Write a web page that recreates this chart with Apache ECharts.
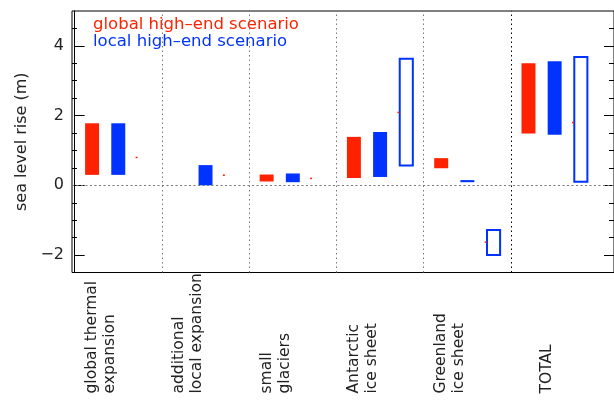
<!DOCTYPE html>
<html><head><meta charset="utf-8">
<script src="https://cdn.jsdelivr.net/npm/echarts@6/dist/echarts.min.js"></script>
<style>html,body{margin:0;padding:0;background:#fff}#c{width:614px;height:402px}</style>
</head><body><div id="c"></div>
<script>
// ---- data ----
const categories = ['global thermal\nexpansion', 'additional\nlocal expansion', 'small\nglaciers', 'Antarctic\nice sheet', 'Greenland\nice sheet', 'TOTAL'];
const globalLow  = [0.30, null, 0.11, 0.21, 0.49, 1.49];
const globalHigh = [1.78, null, 0.31, 1.39, 0.78, 3.50];
const localLow   = [0.30, 0.00, 0.09, 0.24, 0.09, 1.45];
const localHigh  = [1.78, 0.58, 0.34, 1.53, 0.15, 3.56];
const rangeLow   = [null, null, null, 0.57, -2.00, 0.10];
const rangeHigh  = [null, null, null, 3.63, -1.28, 3.68];
const centralValue = [0.80, 0.29, 0.20, 2.09, -1.63, 1.80];
const yMajorTicks = [-2, 0, 2, 4];
const yMinorTicks = [-2.5, -1.5, -1, -0.5, 0.5, 1, 1.5, 2.5, 3, 3.5, 4.5];
const legendLabels = ['global high\u2013end scenario', 'local high\u2013end scenario'];

const RED = '#ff2200', BLUE = '#0033ff';
const FONT = 'DejaVu Sans';
const chart = echarts.init(document.getElementById('c'));

function boxSeries(low, high, offset, halfW, color, hollow) {
  const data = [];
  low.forEach((l, i) => { if (l != null) data.push([i + offset, l, high[i]]); });
  return {
    type: 'custom', silent: true, data,
    encode: { x: 0, y: [1, 2] },
    renderItem(params, api) {
      const x = api.value(0), lo = api.value(1), hi = api.value(2);
      const a = api.coord([x - halfW, hi]), b = api.coord([x + halfW, lo]);
      let h = b[1] - a[1]; let y = a[1];
      if (h < 2) { y -= (2 - h) / 2; h = 2; }
      return {
        type: 'rect',
        shape: { x: a[0], y: y, width: b[0] - a[0], height: h },
        style: hollow ? { fill: 'none', stroke: color, lineWidth: 2 } : { fill: color }
      };
    }
  };
}

const yBase = { type: 'value', min: -2.5, max: 5, splitLine: { show: false } };

const option = {
  animation: false,
  grid: { left: 72, right: -1, top: 11, bottom: 129.5, show: true, borderColor: '#000', borderWidth: 1 },
  xAxis: { type: 'value', min: -0.03, max: 6.18, axisLine: { show: false }, axisTick: { show: false }, axisLabel: { show: false }, splitLine: { show: false } },
  yAxis: [
    Object.assign({}, yBase, {
      position: 'left',
      axisLine: { show: true, lineStyle: { color: '#000' } },
      axisTick: { show: true, inside: true, length: 10, customValues: yMajorTicks, lineStyle: { color: '#000' } },
      axisLabel: { show: true, customValues: yMajorTicks, margin: 8, fontFamily: FONT, fontSize: 16, color: '#222',
        formatter: v => v < 0 ? '\u2212' + Math.abs(v) : String(v) },
      name: 'sea level rise (m)', nameLocation: 'middle', nameGap: 41,
      nameTextStyle: { fontFamily: FONT, fontSize: 16, color: '#222' }
    }),
    Object.assign({}, yBase, {
      position: 'left', axisLine: { show: false },
      axisTick: { show: true, inside: true, length: 5, customValues: yMinorTicks, lineStyle: { color: '#000' } },
      axisLabel: { show: false }
    }),
    Object.assign({}, yBase, {
      position: 'right', axisLine: { show: false },
      axisTick: { show: true, inside: true, length: 10, customValues: yMajorTicks, lineStyle: { color: '#000' } },
      axisLabel: { show: false }
    }),
    Object.assign({}, yBase, {
      position: 'right', axisLine: { show: false },
      axisTick: { show: true, inside: true, length: 5, customValues: yMinorTicks, lineStyle: { color: '#000' } },
      axisLabel: { show: false }
    })
  ],
  graphic: legendLabels.map((t, i) => ({
    type: 'text', left: 93, top: 16 + i * 17,
    style: { text: t, fill: i === 0 ? RED : BLUE, font: '16.5px "DejaVu Sans"' }
  })),
  series: [
    boxSeries(globalLow, globalHigh, 0.2, 0.08, RED, false),
    boxSeries(localLow, localHigh, 0.5, 0.08, BLUE, false),
    boxSeries(rangeLow, rangeHigh, 0.8, 0.075, BLUE, true),
    {
      type: 'custom', silent: true,
      data: centralValue.map((v, i) => [i + 0.71, v]),
      encode: { x: 0, y: 1 },
      renderItem(params, api) {
        const p = api.coord([api.value(0), api.value(1)]);
        return { type: 'rect', shape: { x: p[0] - 1, y: p[1] - 0.75, width: 2, height: 1.5 }, style: { fill: RED } };
      },
      markLine: {
        silent: true, symbol: ['none', 'none'], label: { show: false },
        data: [
          { xAxis: 1, lineStyle: { color: '#777', type: [1.5, 3], width: 1 } },
          { xAxis: 2, lineStyle: { color: '#777', type: [1.5, 3], width: 1 } },
          { xAxis: 3, lineStyle: { color: '#777', type: [1.5, 3], width: 1 } },
          { xAxis: 4, lineStyle: { color: '#777', type: [1.5, 3], width: 1 } },
          { xAxis: 5, lineStyle: { color: '#000', type: [1.5, 3], width: 1 } },
          { yAxis: 0, lineStyle: { color: '#777', type: [2, 2.5], width: 1 } }
        ]
      }
    },
    {
      type: 'custom', silent: true, clip: false,
      data: categories.map((c, i) => [i + 0.51, -2.5]),
      encode: { x: 0, y: 1 },
      renderItem(params, api) {
        const p = api.coord([api.value(0), api.value(1)]);
        return {
          type: 'text', x: p[0], y: p[1] + 121, rotation: Math.PI / 2,
          style: { text: categories[params.dataIndex], fill: '#222', font: '15.5px "DejaVu Sans"',
            align: 'left', verticalAlign: 'bottom', lineHeight: 18 }
        };
      }
    }
  ]
};
chart.setOption(option);
</script></body></html>
